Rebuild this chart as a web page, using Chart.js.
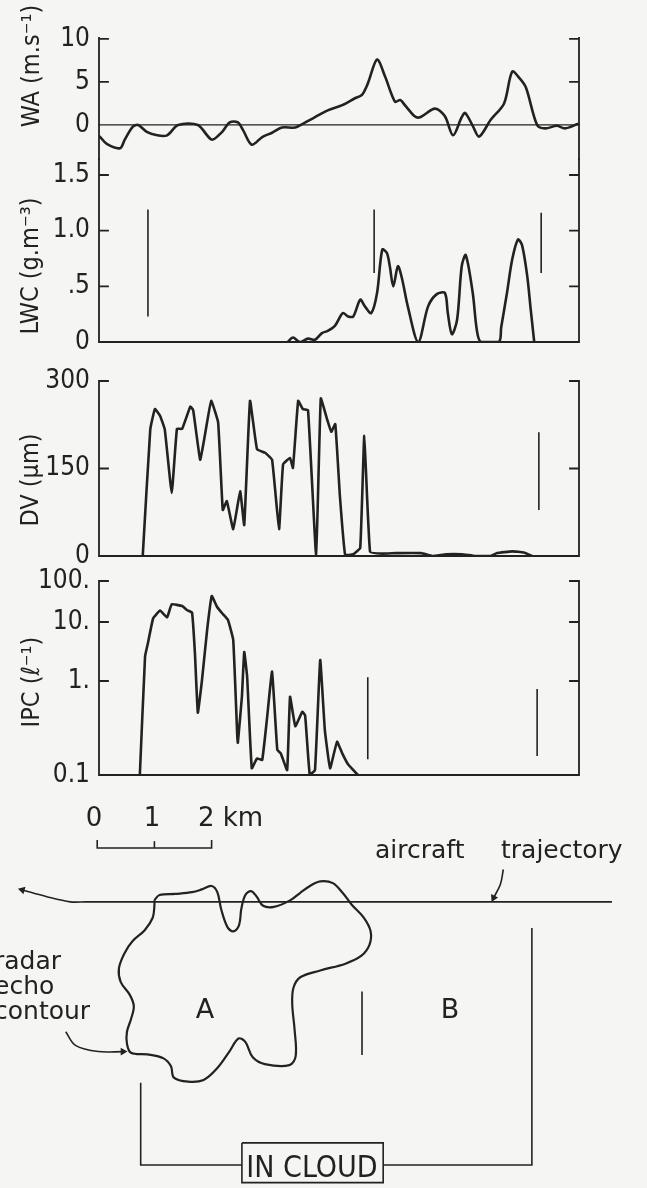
<!DOCTYPE html>
<html><head><meta charset="utf-8">
<script src="https://cdn.jsdelivr.net/npm/chart.js@4.4.1/dist/chart.umd.min.js"></script>
<style>
html,body{margin:0;padding:0;background:#f5f6f3;overflow:hidden;}
#page{position:relative;width:647px;height:1188px;overflow:hidden;background:#f5f6f3;}
canvas{position:absolute;left:0;}
.t{position:absolute;white-space:nowrap;color:#222;line-height:1;font-family:"DejaVu Sans",sans-serif;}
.cd{font-family:"DejaVu Sans Condensed","Liberation Sans Narrow","DejaVu Sans",sans-serif;}
.rot{transform:translate(-50%,-50%) rotate(-90deg);}
.c{transform:translate(-50%,-50%);}
.l{transform:translate(0,-50%);}
</style></head><body><div id="page">
<canvas id="cWA" width="647" height="186" style="top:0px"></canvas>
<canvas id="cLWC" width="647" height="235" style="top:133px"></canvas>
<canvas id="cDV" width="647" height="227" style="top:355px"></canvas>
<canvas id="cIPC" width="647" height="246" style="top:555px"></canvas>
<canvas id="cMap" width="647" height="408" style="top:780px"></canvas>

<div class="t cd rot" style="left:30px;top:66px;font-size:25px">WA (m.s⁻¹)</div>
<div class="t cd rot" style="left:29px;top:266px;font-size:25px">LWC (g.m⁻³)</div>
<div class="t cd rot" style="left:29px;top:480px;font-size:25px">DV (μm)</div>
<div class="t cd rot" style="left:30px;top:682px;font-size:25px">IPC (ℓ⁻¹)</div>

<div class="t c" style="left:94px;top:817px;font-size:26px">0</div>
<div class="t c" style="left:152px;top:817px;font-size:26px">1</div>
<div class="t l" style="left:198px;top:817px;font-size:26px">2 km</div>
<div class="t l" style="left:375px;top:849px;font-size:25px">aircraft</div>
<div class="t l" style="left:501px;top:849px;font-size:25px">trajectory</div>
<div class="t l" style="left:-6px;top:960px;font-size:25px">radar</div>
<div class="t l" style="left:-6px;top:985px;font-size:25px">echo</div>
<div class="t l" style="left:-6px;top:1010px;font-size:25px">contour</div>
<div class="t c" style="left:205px;top:1008px;font-size:27px">A</div>
<div class="t c" style="left:450px;top:1008px;font-size:27px">B</div>
<div class="t cd c" style="left:312px;top:1167px;font-size:30px">IN CLOUD</div>
</div>
<script>
// ================= DATA (distance along track in km) =================
const WA_KM = [0.10,0.22,0.45,0.53,0.67,0.76,0.91,1.09,1.26,1.45,1.79,2.03,2.21,2.34,2.48,2.57,2.72,2.90,3.07,3.24,3.47,3.59,3.81,4.03,4.28,4.50,4.62,4.72,4.88,5.02,5.19,5.28,5.36,5.53,5.62,5.88,6.05,6.19,6.34,6.40,6.53,6.64,6.84,7.07,7.21,7.34,7.45,7.64,7.78,7.98,8.12,8.34];
const WA = [-1.35,-2.2,-2.7,-1.7,-0.2,0,-0.8,-1.2,-1.2,0,0,-1.7,-0.8,0.3,0.3,-0.6,-2.3,-1.4,-0.9,-0.3,-0.3,0.1,0.9,1.7,2.3,3.1,3.5,4.8,7.6,5.6,2.7,2.9,2.3,1.0,0.9,1.9,1.0,-1.2,0.9,1.4,-0.1,-1.35,0.6,2.5,6.2,5.4,4.3,0,-0.4,-0.1,-0.4,0.1];

const LWC_KM = [3.34,3.43,3.55,3.69,3.81,3.93,4.03,4.16,4.29,4.38,4.47,4.59,4.67,4.78,4.88,4.97,5.05,5.10,5.16,5.24,5.31,5.41,5.59,5.76,5.91,6.05,6.10,6.17,6.26,6.34,6.41,6.53,6.60,6.67,6.98,7.02,7.12,7.21,7.31,7.38,7.47,7.53,7.59];
const LWC = [0,0.04,0,0.03,0.02,0.08,0.1,0.15,0.26,0.23,0.23,0.38,0.32,0.26,0.44,0.83,0.8,0.68,0.5,0.68,0.57,0.32,0,0.32,0.43,0.44,0.26,0.07,0.2,0.68,0.78,0.44,0.11,0,0,0.13,0.44,0.74,0.92,0.87,0.59,0.29,0];

const DV_KM = [0.84,0.97,1.05,1.14,1.22,1.34,1.43,1.52,1.66,1.71,1.83,1.91,2.02,2.14,2.22,2.29,2.40,2.52,2.59,2.69,2.81,2.95,3.07,3.19,3.26,3.38,3.43,3.52,3.60,3.69,3.83,3.91,4.02,4.09,4.16,4.24,4.33,4.47,4.59,4.66,4.76,4.97,5.21,5.64,5.84,6.07,6.34,6.57,6.84,6.95,7.21,7.41,7.55];
const DV = [0,217,252,240,217,108,218,218,256,250,165,206,266,229,79,94,46,111,53,266,183,177,165,46,157,168,151,266,252,250,0,270,234,213,226,102,2,3,14,206,7,4,5,5,0,3,3,0,0,5,8,6,0];

const IPC_KM = [0.79,0.88,0.93,1.02,1.14,1.26,1.34,1.52,1.60,1.69,1.74,1.79,1.86,1.95,2.03,2.12,2.22,2.31,2.40,2.47,2.48,2.55,2.59,2.64,2.72,2.81,2.90,2.98,3.07,3.16,3.22,3.33,3.38,3.47,3.59,3.64,3.72,3.81,3.90,3.98,4.07,4.19,4.28,4.38,4.55];
const IPC = [0.1,2.6,4.4,12.3,19,13,27,24.5,19.6,17,2.95,0.46,1.0,7.3,43,23.6,15.7,11.2,5.0,0.26,0.22,0.68,3.1,1.18,0.118,0.15,0.145,0.385,1.44,0.185,0.17,0.113,0.68,0.33,0.47,0.43,0.1,0.113,2.27,0.3,0.118,0.226,0.17,0.13,0.1];

// vertical boundary marks: position (km), lower and upper value in panel units
const LWC_MARK_KM = [0.93, 4.83, 7.71], LWC_MARK_LO = [0.23, 0.62, 0.62], LWC_MARK_HI = [1.19, 1.19, 1.16];
const DV_MARK_KM = [7.67], DV_MARK_LO = [79], DV_MARK_HI = [212];
const IPC_MARK_KM = [4.72, 7.64], IPC_MARK_LO = [0.147, 0.159], IPC_MARK_HI = [1.16, 0.82];

// tick values and labels
const WA_TICKS = [10, 5, 0], WA_LABELS = ['10', '5', '0'];
const LWC_TICKS = [1.5, 1.0, 0.5, 0], LWC_LABELS = ['1.5', '1.0', '.5', '0'];
const DV_TICKS = [300, 150, 0], DV_LABELS = ['300', '150', '0'];
const IPC_TICKS = [100, 10, 1, 0.1], IPC_LABELS = ['100.', '10.', '1.', '0.1'];

// plan view (km; x along track from scale-bar zero, y across track, 0 = flight line)
const ECHO_X = [1.00,1.09,1.36,1.66,1.83,2.00,2.10,2.17,2.28,2.38,2.48,2.52,2.59,2.69,2.79,2.90,3.09,3.38,3.55,3.72,3.90,4.12,4.29,4.45,4.66,4.78,4.76,4.62,4.34,3.90,3.55,3.43,3.41,3.45,3.47,3.36,2.93,2.72,2.59,2.47,2.31,2.10,1.86,1.59,1.34,1.29,1.16,0.88,0.59,0.52,0.52,0.59,0.64,0.57,0.41,0.38,0.48,0.62,0.83,0.97,1.00,1.00];
const ECHO_Y = [0.03,0.12,0.14,0.17,0.22,0.28,0.17,-0.14,-0.45,-0.52,-0.41,-0.12,0.12,0.19,0.09,-0.07,-0.09,0.03,0.16,0.28,0.36,0.33,0.16,-0.05,-0.28,-0.52,-0.76,-0.95,-1.09,-1.21,-1.33,-1.52,-1.81,-2.24,-2.72,-2.88,-2.86,-2.74,-2.47,-2.41,-2.64,-2.93,-3.14,-3.17,-3.10,-2.90,-2.76,-2.69,-2.66,-2.50,-2.29,-2.07,-1.84,-1.64,-1.41,-1.17,-0.90,-0.69,-0.50,-0.28,-0.07,0.03];
const TRACK_X = [9.00, -0.20, -0.47, -0.88, -1.31], TRACK_Y = [0, 0, 0, 0.09, 0.21];
const TRACK_NOTE_X = [7.10, 7.05, 6.93], TRACK_NOTE_Y = [0.57, 0.31, 0.07];
const ECHO_NOTE_X = [-0.55, -0.38, 0.02, 0.45], ECHO_NOTE_Y = [-2.29, -2.53, -2.64, -2.64];
const AB_SPLIT_X = [4.63, 4.63], AB_SPLIT_Y = [-1.58, -2.70];
const CLOUD_LEFT_X = [0.76, 0.76, 2.53], CLOUD_LEFT_Y = [-3.19, -4.64, -4.64];
const CLOUD_RIGHT_X = [5.00, 7.60, 7.60], CLOUD_RIGHT_Y = [-4.64, -4.64, -0.46];
const BOX_X = [2.53, 5.00, 5.00, 2.53, 2.53], BOX_Y = [-4.25, -4.25, -4.95, -4.95, -4.25];
const SCALE_X = [0, 0, 2, 2], SCALE_Y = [1.09, 0.95, 0.95, 1.09];
const SCALE_MID_X = [1, 1], SCALE_MID_Y = [0.95, 1.07];

// ================= RENDERING =================
const INK = '#222222';
const FONT = '"DejaVu Sans Condensed","Liberation Sans Narrow","DejaVu Sans",sans-serif';
const W = 647, AREA_LEFT = 99, AREA_RIGHT = 579;
const X_MIN = 0.086, X_MAX = 8.362;

// printed IPC axis: decade ticks are not evenly spaced on the original, piecewise-log axis
const IPC_KNOTS = [0.1, 1, 10, 100];
const IPC_KNOT_POS = [0, 0.4845, 0.7887, 1];
function ipcPos(v) {
  const lv = Math.log10(v);
  for (let i = 0; i < IPC_KNOTS.length - 1; i++) {
    const a = Math.log10(IPC_KNOTS[i]), b = Math.log10(IPC_KNOTS[i + 1]);
    if (lv <= b || i === IPC_KNOTS.length - 2) {
      const t = (lv - a) / (b - a);
      return IPC_KNOT_POS[i] + t * (IPC_KNOT_POS[i + 1] - IPC_KNOT_POS[i]);
    }
  }
}
const ident = v => v;

const frame = {
  id: 'frame',
  afterDatasetsDraw(chart, args, o) {
    const { ctx, chartArea: a } = chart;
    const y = chart.scales.y;
    ctx.save();
    ctx.strokeStyle = INK;
    ctx.lineCap = 'square';
    ctx.lineWidth = 1.8;
    ctx.beginPath();
    ctx.moveTo(a.left, a.top); ctx.lineTo(a.left, a.bottom);
    ctx.moveTo(a.right, a.top); ctx.lineTo(a.right, a.bottom);
    if (o.bottom) { ctx.moveTo(a.left, a.bottom); ctx.lineTo(a.right, a.bottom); }
    (o.marks || []).forEach(v => {
      const p = y.getPixelForValue(v);
      ctx.moveTo(a.left, p); ctx.lineTo(a.left + 9, p);
      ctx.moveTo(a.right, p); ctx.lineTo(a.right - 9, p);
    });
    ctx.stroke();
    if (o.zero !== null && o.zero !== undefined) {
      const p = y.getPixelForValue(o.zero);
      ctx.lineWidth = 1.3;
      ctx.beginPath(); ctx.moveTo(a.left, p); ctx.lineTo(a.right, p); ctx.stroke();
    }
    ctx.restore();
  }
};

function panel(id, o) {
  const map = o.map || ident;
  const ds = [{
    data: o.xs.map((x, i) => ({ x, y: map(o.ys[i]) })),
    borderColor: INK, borderWidth: 2.6, pointRadius: 0, tension: o.tension,
    fill: false, borderJoinStyle: 'round', borderCapStyle: 'round'
  }];
  (o.markX || []).forEach((x, i) => ds.push({
    data: [{ x, y: map(o.markLo[i]) }, { x, y: map(o.markHi[i]) }],
    borderColor: INK, borderWidth: 1.6, pointRadius: 0
  }));
  return new Chart(document.getElementById(id), {
    type: 'line',
    data: { datasets: ds },
    options: {
      responsive: false, animation: false, events: [], devicePixelRatio: 1,
      layout: { padding: { top: o.padTop, bottom: o.padBottom, left: 0, right: W - AREA_RIGHT } },
      plugins: {
        legend: { display: false }, tooltip: { enabled: false },
        frame: { marks: o.tickMarks.map(map), bottom: o.bottom, zero: o.zero }
      },
      scales: {
        x: { type: 'linear', display: false, min: X_MIN, max: X_MAX },
        y: {
          type: 'linear', position: 'left', min: o.min, max: o.max,
          afterFit(s) { s.width = AREA_LEFT; },
          afterBuildTicks(s) { s.ticks = o.ticks.map(v => ({ value: map(v) })); },
          ticks: { autoSkip: false, padding: 9, color: INK, font: { family: FONT, size: 26 },
                   callback: (v, i) => o.labels[i] },
          grid: { display: false, drawTicks: false },
          border: { display: false }
        }
      }
    },
    plugins: [frame]
  });
}

panel('cWA', { xs: WA_KM, ys: WA, tension: 0.3, min: -4, max: 10.1, padTop: 38, padBottom: 26.6,
  ticks: WA_TICKS, labels: WA_LABELS, tickMarks: [10, 5], bottom: false, zero: 0 });
panel('cLWC', { xs: LWC_KM, ys: LWC, tension: 0.3, min: 0, max: 1.64, padTop: 26.4, padBottom: 26,
  ticks: LWC_TICKS, labels: LWC_LABELS, tickMarks: [1.5, 1.0, 0.5], bottom: true,
  markX: LWC_MARK_KM, markLo: LWC_MARK_LO, markHi: LWC_MARK_HI });
panel('cDV', { xs: DV_KM, ys: DV, tension: 0.1, min: 0, max: 300, padTop: 26, padBottom: 26,
  ticks: DV_TICKS, labels: DV_LABELS, tickMarks: [300, 150], bottom: true,
  markX: DV_MARK_KM, markLo: DV_MARK_LO, markHi: DV_MARK_HI });
panel('cIPC', { xs: IPC_KM, ys: IPC, map: ipcPos, tension: 0.1, min: 0, max: 1, padTop: 26, padBottom: 26,
  ticks: IPC_TICKS, labels: IPC_LABELS, tickMarks: [100, 10, 1], bottom: true,
  markX: IPC_MARK_KM, markLo: IPC_MARK_LO, markHi: IPC_MARK_HI });

// ---- plan view ----
function path(xs, ys, extra) {
  return Object.assign({
    data: xs.map((x, i) => ({ x, y: ys[i] })), showLine: true, borderColor: INK,
    borderWidth: 2, pointRadius: 0, tension: 0, clip: false, fill: false
  }, extra || {});
}
function headRotation(ctx) {
  const d = ctx.dataset.data, n = d.length;
  if (ctx.dataIndex !== n - 1) return 0;
  const sx = ctx.chart.scales.x, sy = ctx.chart.scales.y;
  const dx = sx.getPixelForValue(d[n - 1].x) - sx.getPixelForValue(d[n - 2].x);
  const dy = sy.getPixelForValue(d[n - 1].y) - sy.getPixelForValue(d[n - 2].y);
  return Math.atan2(dx, -dy) * 180 / Math.PI;
}
function arrow(xs, ys, width) {
  const n = xs.length;
  return path(xs, ys, {
    tension: 0.35, borderWidth: width,
    pointRadius: xs.map((_, i) => i === n - 1 ? 4.5 : 0),
    pointStyle: 'triangle', pointRotation: headRotation,
    pointBackgroundColor: INK, pointBorderColor: INK, pointBorderWidth: 0
  });
}
new Chart(document.getElementById('cMap'), {
  type: 'scatter',
  data: { datasets: [
    path(ECHO_X, ECHO_Y, { tension: 0.35, borderWidth: 2.2, borderJoinStyle: 'round' }),
    arrow(TRACK_X, TRACK_Y, 1.6),
    arrow(TRACK_NOTE_X, TRACK_NOTE_Y, 1.6),
    arrow(ECHO_NOTE_X, ECHO_NOTE_Y, 1.6),
    path(AB_SPLIT_X, AB_SPLIT_Y, { borderWidth: 1.6 }),
    path(CLOUD_LEFT_X, CLOUD_LEFT_Y, { borderWidth: 1.6 }),
    path(CLOUD_RIGHT_X, CLOUD_RIGHT_Y, { borderWidth: 1.6 }),
    path(BOX_X, BOX_Y, { borderWidth: 1.6 }),
    path(SCALE_X, SCALE_Y, { borderWidth: 1.6 }),
    path(SCALE_MID_X, SCALE_MID_Y, { borderWidth: 1.6 })
  ] },
  options: {
    responsive: false, animation: false, events: [], devicePixelRatio: 1,
    layout: { padding: 0 },
    plugins: { legend: { display: false }, tooltip: { enabled: false } },
    scales: {
      x: { type: 'linear', display: false, min: -1.621, max: 9.534 },
      y: { type: 'linear', display: false, min: -4.966, max: 2.069 }
    }
  }
});
</script>
</body></html>
